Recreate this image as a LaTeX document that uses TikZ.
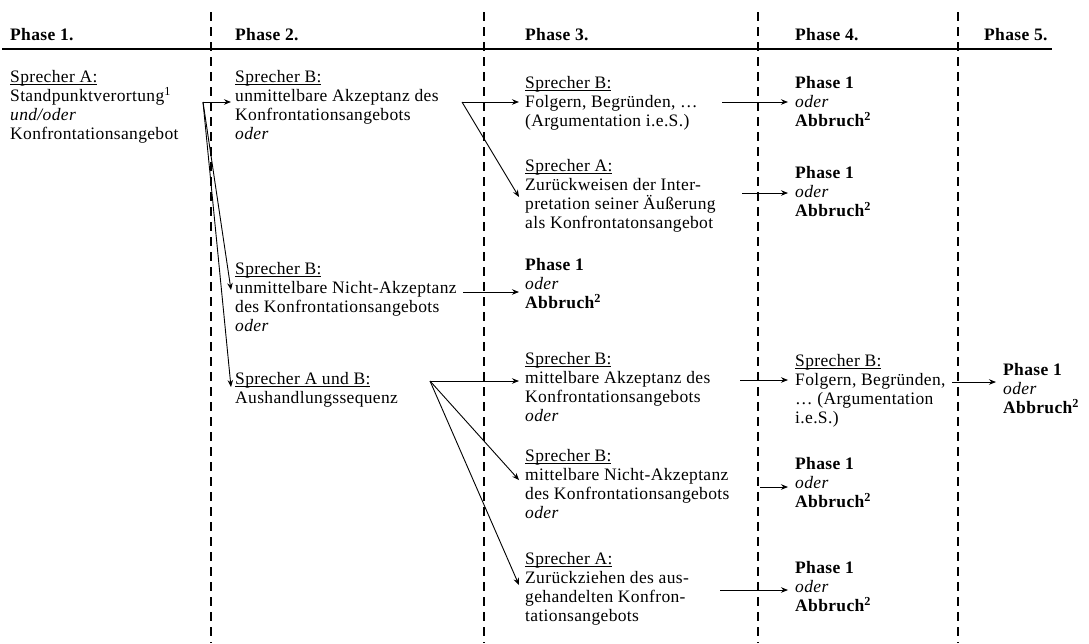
\documentclass[tikz,border=0pt]{standalone}
\usepackage{fontspec}
\setmainfont{Liberation Serif}[LetterSpace=2]
\usetikzlibrary{arrows.meta}

% underline that sits close to the baseline
\newcommand{\spk}[1]{\setbox0\hbox{#1}\rlap{\rule[-2.2pt]{\wd0}{0.8pt}}\box0}

\begin{document}
\begin{tikzpicture}[x=1pt,y=-1pt,
  txt/.style={anchor=north west, inner sep=0pt, align=left,
    font=\fontsize{17.5}{19}\selectfont, execute at begin node={\rule{0pt}{13pt}}},
  head/.style={anchor=base west, inner sep=0pt, font=\fontsize{17.5}{19}\selectfont\bfseries},
  divider/.style={line width=1.1pt, dash pattern=on 9pt off 6pt},
  headrule/.style={line width=1.2pt},
  arr/.style={-{Stealth[length=7pt,width=5.5pt]}, line width=0.9pt}
]
\useasboundingbox (0,0) rectangle (1089,643);
\fill[white] (0,0) rectangle (1089,643);

% column dividers and header rule
\draw[divider] (211,12) -- (211,643);
\draw[divider] (484,12) -- (484,643);
\draw[divider] (758,12) -- (758,643);
\draw[divider] (958,12) -- (958,643);
\draw[headrule] (2,49) -- (1052,49);

% headers
\node[head] (h1) at (10,40)  {Phase 1.};
\node[head] (h2) at (235,40) {Phase 2.};
\node[head] (h3) at (525,40) {Phase 3.};
\node[head] (h4) at (795,40) {Phase 4.};
\node[head] (h5) at (984,40) {Phase 5.};

% phase 1
\node[txt] (p1) at (10,70) {\spk{Sprecher A:}\\ Standpunktverortung\textsuperscript{1}\\ \textit{und/oder}\\ Konfrontationsangebot};

% phase 2
\node[txt] (p2a) at (235,70)  {\spk{Sprecher B:}\\ unmittelbare Akzeptanz des\\ Konfrontationsangebots\\ \textit{oder}};
\node[txt] (p2b) at (235,262) {\spk{Sprecher B:}\\ unmittelbare Nicht-Akzeptanz\\ des Konfrontationsangebots\\ \textit{oder}};
\node[txt] (p2c) at (235,372) {\spk{Sprecher A und B:}\\ Aushandlungssequenz};

% phase 3
\node[txt] (p3a) at (525,76)  {\spk{Sprecher B:}\\ Folgern, Begründen, …\\ (Argumentation i.e.S.)};
\node[txt] (p3b) at (525,159) {\spk{Sprecher A:}\\ Zurückweisen der Inter-\\ pretation seiner Äußerung\\ als Konfrontatonsangebot};
\node[txt] (p3c) at (525,258) {\textbf{Phase 1}\\ \textit{oder}\\ \textbf{Abbruch\textsuperscript{2}}};
\node[txt] (p3d) at (525,352) {\spk{Sprecher B:}\\ mittelbare Akzeptanz des\\ Konfrontationsangebots\\ \textit{oder}};
\node[txt] (p3e) at (525,449) {\spk{Sprecher B:}\\ mittelbare Nicht-Akzeptanz\\ des Konfrontationsangebots\\ \textit{oder}};
\node[txt] (p3f) at (525,552) {\spk{Sprecher A:}\\ Zurückziehen des aus-\\ gehandelten Konfron-\\ tationsangebots};

% phase 4
\node[txt] (p4a) at (795,76)  {\textbf{Phase 1}\\ \textit{oder}\\ \textbf{Abbruch\textsuperscript{2}}};
\node[txt] (p4b) at (795,166) {\textbf{Phase 1}\\ \textit{oder}\\ \textbf{Abbruch\textsuperscript{2}}};
\node[txt] (p4c) at (795,354) {\spk{Sprecher B:}\\ Folgern, Begründen,\\ … (Argumentation\\ i.e.S.)};
\node[txt] (p4d) at (795,457) {\textbf{Phase 1}\\ \textit{oder}\\ \textbf{Abbruch\textsuperscript{2}}};
\node[txt] (p4e) at (795,561) {\textbf{Phase 1}\\ \textit{oder}\\ \textbf{Abbruch\textsuperscript{2}}};

% phase 5
\node[txt] (p5) at (1003,363) {\textbf{Phase 1}\\ \textit{oder}\\ \textbf{Abbruch\textsuperscript{2}}};

% branching points and arrow ends
\coordinate (j1) at (203,102);
\coordinate (j2) at (462,102);
\coordinate (j3) at (430,381);
\coordinate (t2a) at (231,102);
\coordinate (t2b) at (231,290);
\coordinate (t2c) at (231,387);
\coordinate (t3a) at (519,102);
\coordinate (t3b) at (519,197);
\coordinate (s2b) at (463,292);
\coordinate (t3c) at (519,292);
\coordinate (t3d) at (519,381);
\coordinate (t3e) at (519,480);
\coordinate (t3f) at (519,585);
\coordinate (s3a) at (722,102);
\coordinate (t4a) at (788,102);
\coordinate (s3b) at (742,193);
\coordinate (t4b) at (788,193);
\coordinate (s3d) at (740,380);
\coordinate (t4c) at (788,380);
\coordinate (s3e) at (760,487);
\coordinate (t4d) at (788,487);
\coordinate (s3f) at (720,590);
\coordinate (t4e) at (788,590);
\coordinate (s4c) at (952,382);
\coordinate (t5) at (996,382);

% connectors
\draw[arr] (j1) -- (t2a);
\draw[arr] (j1) -- (t2b);
\draw[arr] (j1) -- (t2c);
\draw[arr] (j2) -- (t3a);
\draw[arr] (j2) -- (t3b);
\draw[arr] (s2b) -- (t3c);
\draw[arr] (j3) -- (t3d);
\draw[arr] (j3) -- (t3e);
\draw[arr] (j3) -- (t3f);
\draw[arr] (s3a) -- (t4a);
\draw[arr] (s3b) -- (t4b);
\draw[arr] (s3d) -- (t4c);
\draw[arr] (s3e) -- (t4d);
\draw[arr] (s3f) -- (t4e);
\draw[arr] (s4c) -- (t5);
\end{tikzpicture}
\end{document}
